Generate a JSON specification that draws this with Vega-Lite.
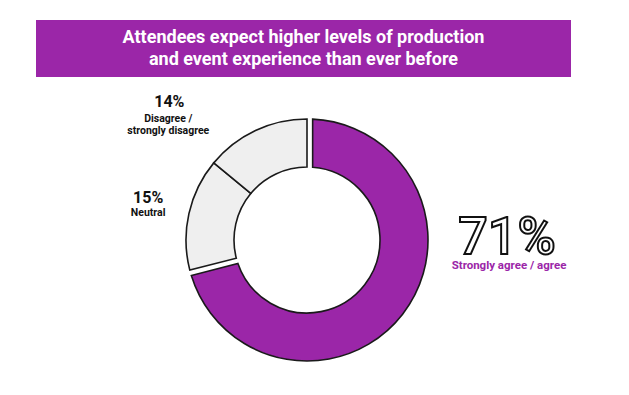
{
  "$schema": "https://vega.github.io/schema/vega-lite/v6.json",
  "background": "white",
  "padding": {"left": 36, "top": 20, "right": 0, "bottom": 0},
  "bounds": "flush",
  "spacing": 20,
  "config": {"view": {"stroke": null}, "font": "Roboto"},
  "datasets": {
    "survey": [
      {"cat": "agree", "pct": "71%", "desc": "Strongly agree / agree", "value": 71, "ord": 1},
      {"cat": "neutral", "pct": "15%", "desc": "Neutral", "value": 15, "ord": 2},
      {"cat": "disagree", "pct": "14%", "desc": "Disagree /\nstrongly disagree", "value": 14, "ord": 3}
    ]
  },
  "vconcat": [
    {
      "width": 535,
      "height": 57,
      "view": {"fill": "#9b26a8", "stroke": null},
      "data": {"values": [{}]},
      "mark": {
        "type": "text",
        "text": ["Attendees expect higher levels of production", "and event experience than ever before"],
        "font": "Roboto",
        "fontWeight": "bold",
        "fontSize": 18,
        "color": "white",
        "lineHeight": 22,
        "baseline": "middle",
        "align": "center",
        "dy": -11
      },
      "encoding": {}
    },
    {
      "width": 542,
      "height": 286,
      "data": {"name": "survey"},
      "transform": [
        {"stack": "value", "groupby": [], "sort": [{"field": "ord", "order": "ascending"}], "as": ["v0", "v1"]}
      ],
      "layer": [
        {
          "transform": [{"filter": "datum.cat !== 'agree'"}],
          "mark": {"type": "arc", "innerRadius": 73, "outerRadius": 121, "fill": "#efefef", "stroke": "#1a1a1a", "strokeWidth": 1.6},
          "encoding": {
            "theta": {"field": "v0", "type": "quantitative", "scale": {"domain": [0, 100]}},
            "theta2": {"field": "v1"}
          }
        },
        {
          "transform": [{"filter": "datum.cat === 'agree'"}],
          "mark": {"type": "arc", "innerRadius": 73, "outerRadius": 121, "padAngle": 0.08, "fill": "#9b26a8", "stroke": "#1a1a1a", "strokeWidth": 1.6},
          "encoding": {
            "theta": {"field": "v0", "type": "quantitative", "scale": {"domain": [0, 100]}},
            "theta2": {"field": "v1"}
          }
        },
        {
          "transform": [{"filter": "datum.cat === 'disagree'"}],
          "mark": {"type": "text", "radius": 180, "dx": 1, "dy": -23, "fontSize": 16, "fontWeight": "bold", "color": "#111111", "baseline": "middle"},
          "encoding": {
            "theta": {"field": "v0", "type": "quantitative", "stack": null, "scale": {"domain": [0, 100]}},
            "text": {"field": "pct"}
          }
        },
        {
          "transform": [{"filter": "datum.cat === 'disagree'"}],
          "mark": {"type": "text", "radius": 180, "dx": 0, "dy": -11, "fontSize": 10.5, "fontWeight": "bold", "color": "#111111", "baseline": "top", "lineBreak": "\n", "lineHeight": 12},
          "encoding": {
            "theta": {"field": "v0", "type": "quantitative", "stack": null, "scale": {"domain": [0, 100]}},
            "text": {"field": "desc"}
          }
        },
        {
          "transform": [{"filter": "datum.cat === 'neutral'"}],
          "mark": {"type": "text", "radius": 164, "dx": 0, "dy": -83, "fontSize": 16, "fontWeight": "bold", "color": "#111111", "baseline": "middle"},
          "encoding": {
            "theta": {"field": "v0", "type": "quantitative", "stack": null, "scale": {"domain": [0, 100]}},
            "text": {"field": "pct"}
          }
        },
        {
          "transform": [{"filter": "datum.cat === 'neutral'"}],
          "mark": {"type": "text", "radius": 164, "dx": 0, "dy": -68, "fontSize": 10.5, "fontWeight": "bold", "color": "#111111", "baseline": "middle"},
          "encoding": {
            "theta": {"field": "v0", "type": "quantitative", "stack": null, "scale": {"domain": [0, 100]}},
            "text": {"field": "desc"}
          }
        },
        {
          "transform": [{"filter": "datum.cat === 'agree'"}],
          "mark": {"type": "text", "radius": 0, "dx": 200, "dy": -2, "fontSize": 52, "fontWeight": 500, "letterSpacing": -2, "fill": "white", "stroke": "#111111", "strokeWidth": 2, "baseline": "middle"},
          "encoding": {
            "theta": {"field": "v0", "type": "quantitative", "stack": null, "scale": {"domain": [0, 100]}},
            "text": {"field": "pct"}
          }
        },
        {
          "transform": [{"filter": "datum.cat === 'agree'"}],
          "mark": {"type": "text", "radius": 0, "dx": 202, "dy": 26, "fontSize": 11.5, "fontWeight": "bold", "color": "#9b26a8", "baseline": "middle"},
          "encoding": {
            "theta": {"field": "v0", "type": "quantitative", "stack": null, "scale": {"domain": [0, 100]}},
            "text": {"field": "desc"}
          }
        }
      ]
    }
  ]
}
